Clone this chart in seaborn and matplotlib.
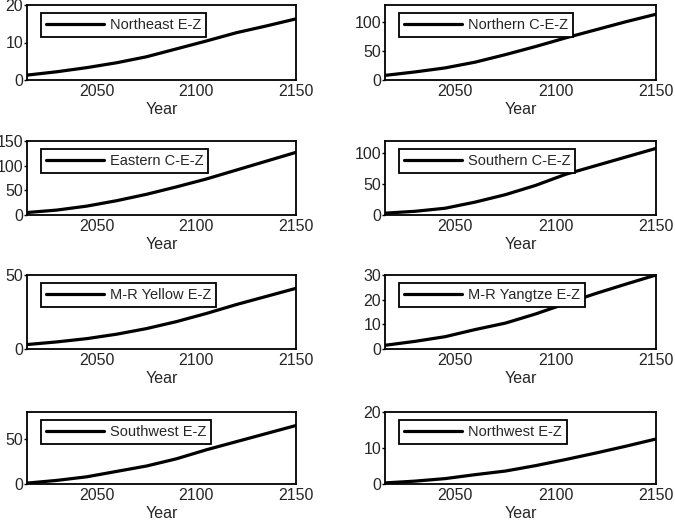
import matplotlib
matplotlib.use("Agg")
import matplotlib.pyplot as plt
import seaborn as sns
import pandas as pd

years = [2015, 2030, 2045, 2060, 2075, 2090, 2105, 2120, 2135, 2150]

regions = ["Northeast E-Z", "Northern C-E-Z", "Eastern C-E-Z", "Southern C-E-Z",
           "M-R Yellow E-Z", "M-R Yangtze E-Z", "Southwest E-Z", "Northwest E-Z"]

northeast = [1.3, 2.2, 3.3, 4.6, 6.2, 8.3, 10.4, 12.6, 14.4, 16.3]
northern = [8, 14, 21, 31, 44, 58, 73, 87, 101, 114]
eastern = [5, 10, 18, 29, 42, 57, 73, 91, 109, 127]
southern = [3, 6, 11, 21, 33, 48, 66, 80, 94, 108]
mr_yellow = [3, 4.8, 7, 10, 13.8, 18.5, 24, 30, 35.5, 41]
mr_yangtze = [1.5, 3.1, 5.0, 7.9, 10.5, 14.2, 18.4, 22.5, 26.3, 30]
southwest = [1, 4, 8, 14, 20, 28, 38, 47, 56, 65]
northwest = [0.3, 0.8, 1.5, 2.6, 3.6, 5.1, 6.8, 8.6, 10.5, 12.5]

series = [northeast, northern, eastern, southern, mr_yellow, mr_yangtze, southwest, northwest]

ylims = [(0, 20), (0, 130), (0, 150), (0, 120), (0, 50), (0, 30), (0, 80), (0, 20)]
yticks = [[0, 10, 20], [0, 50, 100], [0, 50, 100, 150], [0, 50, 100],
          [0, 50], [0, 10, 20, 30], [0, 50], [0, 10, 20]]
xticks = [2050, 2100, 2150]

sns.set_style("white")
plt.rcParams['font.family'] = 'Liberation Sans'

fig = plt.figure(figsize=(6.75, 5.27), dpi=100)

W, H = 675, 527
col_x = [(27, 296), (385, 656)]
row_y = [(5, 80), (141, 215), (275, 349), (412, 484)]

for i, (name, vals) in enumerate(zip(regions, series)):
    r, c = divmod(i, 2)
    x0, x1 = col_x[c]
    y0, y1 = row_y[r]
    ax = fig.add_axes([x0 / W, 1 - y1 / H, (x1 - x0) / W, (y1 - y0) / H])
    df = pd.DataFrame({"Year": years, "Value": vals})
    sns.lineplot(data=df, x="Year", y="Value", ax=ax, color="black", linewidth=2.3,
                 label=name)
    ax.set_xlim(2015, 2150)
    ax.set_ylim(*ylims[i])
    ax.set_xticks(xticks)
    ax.set_yticks(yticks[i])
    ax.set_xlabel("Year", fontsize=11.5, labelpad=2)
    ax.set_ylabel("")
    ax.tick_params(axis="both", labelsize=11.5, direction="out", length=2,
                   width=1, color="black", pad=0.8, left=True, bottom=False)
    for s in ax.spines.values():
        s.set_color("black")
        s.set_linewidth(1.3)
        s.set_visible(True)
    w = x1 - x0
    h = y1 - y0
    leg = ax.legend(loc="upper left", bbox_to_anchor=(14 / w, 1 - 8 / h),
                    borderaxespad=0, fontsize=10.5, handlelength=4.0,
                    handletextpad=0.35, borderpad=0.35, fancybox=False,
                    framealpha=1, edgecolor="black")
    leg.get_frame().set_linewidth(1.3)

fig.savefig("out.png", dpi=100)
